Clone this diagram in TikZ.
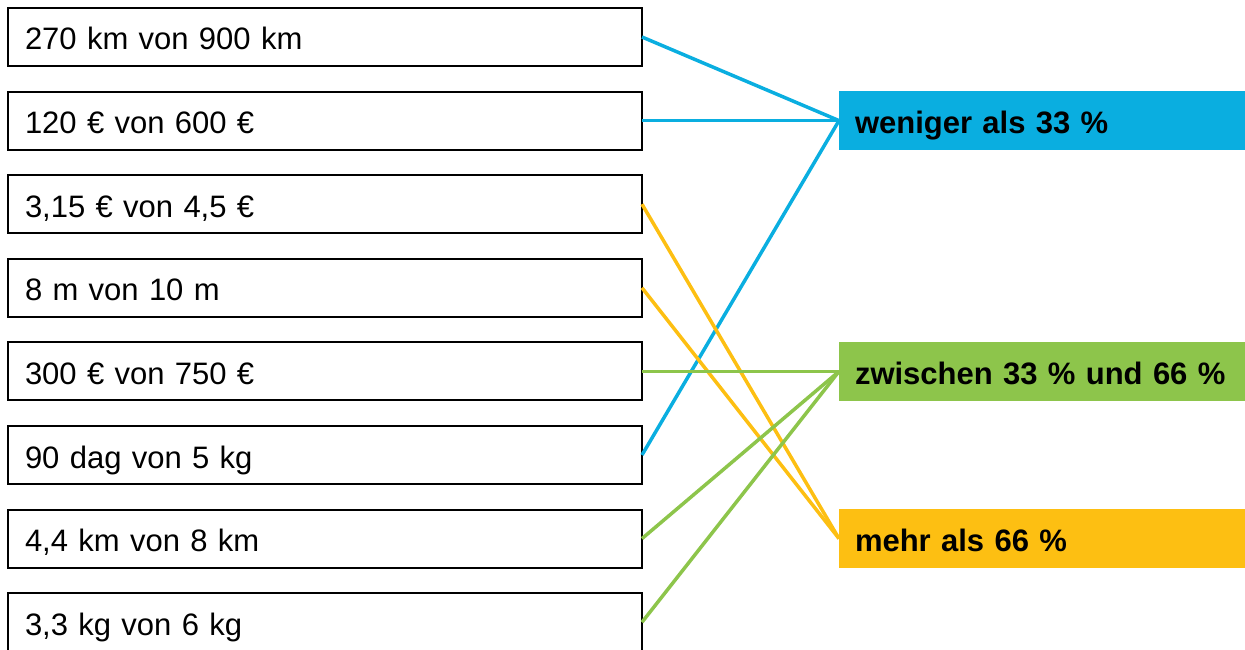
\documentclass[tikz,border=0pt]{standalone}
\usepackage{fontspec}
\setmainfont{Liberation Sans}
\usepackage{tikz}
\usetikzlibrary{positioning}
\definecolor{lowblue}{HTML}{0AAEE0}
\definecolor{midgreen}{HTML}{8DC54B}
\definecolor{highorange}{HTML}{FDBF12}

\begin{document}
\begin{tikzpicture}[x=1pt,y=1pt,node distance=25.6pt and 197pt,
  quant/.style={draw,line width=2pt,outer sep=0pt,text width=600pt,align=left,inner xsep=17pt,inner ysep=0pt,
    minimum height=58pt,text height=26pt,text depth=0pt,font=\fontsize{31}{36}\selectfont},
  cat/.style={outer sep=0pt,text width=380pt,align=left,inner xsep=16pt,inner ysep=0pt,
    minimum height=59pt,text height=26pt,text depth=0pt,font=\fontsize{31}{36}\selectfont\bfseries},
  link/.style={line width=3.5pt}]
\useasboundingbox (0,0) rectangle (1245,-650);
\clip (0,0) rectangle (1245,-650);
% left column: quantities
\node[quant,anchor=north west] (q1) at (8,-8) {270 km von 900 km};
\node[quant,below=of q1] (q2) {120 € von 600 €};
\node[quant,below=of q2] (q3) {3,15 € von 4,5 €};
\node[quant,below=of q3] (q4) {8 m von 10 m};
\node[quant,below=of q4] (q5) {300 € von 750 €};
\node[quant,below=of q5] (q6) {90 dag von 5 kg};
\node[quant,below=of q6] (q7) {4,4 km von 8 km};
\node[quant,below=of q7] (q8) {3,3 kg von 6 kg};
% right column: categories
\node[cat,fill=lowblue,right=of q2] (low) {weniger als 33 \%};
\node[cat,fill=midgreen,right=of q5] (mid) {zwischen 33 \% und 66 \%};
\node[cat,fill=highorange,right=of q7] (high) {mehr als 66 \%};
% connections
\draw[link,lowblue] (q1.east) -- (low.west);
\draw[link,lowblue] (q2.east) -- (low.west);
\draw[link,lowblue] (q6.east) -- (low.west);
\draw[link,highorange] (q3.east) -- (high.west);
\draw[link,highorange] (q4.east) -- (high.west);
\draw[link,midgreen] (q5.east) -- (mid.west);
\draw[link,midgreen] (q7.east) -- (mid.west);
\draw[link,midgreen] (q8.east) -- (mid.west);
\end{tikzpicture}
\end{document}
